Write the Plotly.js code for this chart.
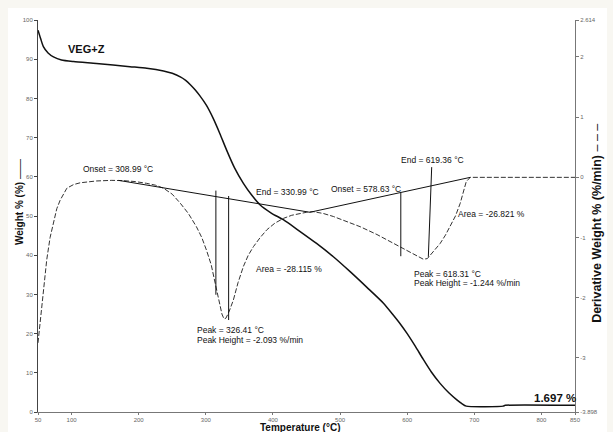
<!DOCTYPE html>
<html>
<head>
<meta charset="utf-8">
<script src="https://cdn.plot.ly/plotly-3.0.1.min.js"></script>
<style>
html,body{margin:0;padding:0;background:#f8f7f2;}
#chart{width:613px;height:432px;}
</style>
</head>
<body>
<div id="chart"></div>
<script>
// Weight % curve (left axis)
const tempW = [50, 54, 58, 65, 73, 85, 103, 137, 187, 212, 237, 250, 262, 270, 277, 284, 291, 301, 311, 321, 331, 343, 356, 368, 381, 398, 416, 440, 465, 490, 515, 540, 565, 578, 590, 600, 612, 624, 636, 649, 662, 674, 681, 688, 743, 746, 850];
const weight = [97.4, 95.2, 93.2, 91.6, 90.6, 89.8, 89.4, 88.9, 88.1, 87.7, 87.0, 86.4, 85.5, 84.6, 83.5, 82.2, 80.7, 78.2, 74.9, 71.0, 66.8, 62.2, 58.3, 55.4, 52.8, 50.7, 49.0, 46.1, 43.0, 39.6, 35.8, 31.8, 27.7, 25.0, 22.4, 20.0, 16.8, 13.4, 10.2, 7.3, 4.9, 3.1, 2.2, 1.5, 1.5, 1.7, 1.7];

// Derivative weight curve (right axis)
const tempD = [50, 53, 56, 60, 63, 68, 73, 78, 83, 93, 103, 113, 137, 160, 177, 195, 212, 225, 237, 250, 262, 274, 286, 294, 301, 308, 314, 318, 321, 324, 327, 330, 335, 341, 348, 356, 363, 371, 381, 391, 403, 416, 428, 440, 450, 460, 475, 490, 510, 530, 555, 580, 599, 612, 624, 630, 640, 649, 657, 664, 672, 679, 688, 694, 720, 760, 800, 850];
const deriv = [-2.75, -2.45, -2.10, -1.70, -1.37, -1.00, -0.76, -0.52, -0.38, -0.18, -0.12, -0.09, -0.06, -0.05, -0.055, -0.07, -0.10, -0.13, -0.18, -0.28, -0.43, -0.60, -0.82, -1.0, -1.21, -1.45, -1.76, -1.98, -2.15, -2.27, -2.35, -2.34, -2.22, -2.04, -1.75, -1.48, -1.30, -1.15, -1.0, -0.87, -0.76, -0.68, -0.63, -0.60, -0.58, -0.57, -0.60, -0.65, -0.73, -0.82, -0.95, -1.10, -1.21, -1.29, -1.36, -1.35, -1.22, -1.10, -0.96, -0.82, -0.64, -0.43, -0.07, 0.0, 0.0, 0.0, 0.0, 0.0];

// Baselines and peak markers (right axis units)
const baseT = [170, 455, 694];
const baseD = [-0.05, -0.58, 0.0];
const markerLines = [
  {t: [315, 315], d: [-0.22, -1.95]},
  {t: [334, 334], d: [-0.31, -2.37]},
  {t: [590.5, 590.5], d: [-0.26, -1.31]},
  {t: [636.5, 631.5], d: [0.17, -1.32]}
];

// Axis ticks
const xTickVals = [50, 100, 200, 300, 400, 500, 600, 700, 800, 850];
const xTickText = ['50', '100', '200', '300', '400', '500', '600', '700', '800', '850'];
const y2TickVals = [-3.898, -3, -2, -1, 0, 1, 2, 2.614];
const y2TickText = ['-3.898', '-3', '-2', '-1', '0', '1', '2', '2.614'];

// Text labels: [x (°C), y (weight %), text, anchor, bold, size]
const labels = [
  [122.3, 92.6, 'VEG+Z', 'center', true, 11],
  [169.2, 62.1, 'Onset = 308.99 °C', 'center', false, 8.5],
  [422.4, 56.25, 'End = 330.99 °C', 'center', false, 8.5],
  [538.6, 57.0, 'Onset = 578.63 °C', 'center', false, 8.5],
  [637.0, 64.2, 'End = 619.36 °C', 'center', false, 8.5],
  [423.2, 36.5, 'Area = -28.115 %', 'center', false, 8.5],
  [725.6, 50.5, 'Area = -26.821 %', 'center', false, 8.5],
  [607.2, 35.3, 'Peak = 618.31 °C', 'left', false, 8.5],
  [607.2, 32.9, 'Peak Height = -1.244 %/min', 'left', false, 8.5],
  [283.9, 20.9, 'Peak = 326.41 °C', 'left', false, 8.5],
  [283.9, 18.4, 'Peak Height = -2.093 %/min', 'left', false, 8.5],
  [819.5, 3.6, '1.697 %', 'center', true, 11.5]
];

const traces = [
  {x: tempW, y: weight, mode: 'lines', line: {color: '#111', width: 1.5, shape: 'spline', smoothing: 0.6}, yaxis: 'y', hoverinfo: 'skip'},
  {x: tempD, y: deriv, mode: 'lines', line: {color: '#333', width: 1, dash: '5px,2px'}, yaxis: 'y2', hoverinfo: 'skip'},
  {x: baseT, y: baseD, mode: 'lines', line: {color: '#111', width: 1}, yaxis: 'y2', hoverinfo: 'skip'}
];
markerLines.forEach(m => traces.push({x: m.t, y: m.d, mode: 'lines', line: {color: '#111', width: 1}, yaxis: 'y2', hoverinfo: 'skip'}));

const annotations = labels.map(l => ({
  x: l[0], y: l[1], xref: 'x', yref: 'y', text: l[4] ? '<b>' + l[2] + '</b>' : l[2],
  showarrow: false, xanchor: l[3], yanchor: 'middle',
  font: {family: 'Liberation Sans, Arial, sans-serif', size: l[5], color: '#111'}
}));
annotations.push(
  {x: 0.488, y: -0.039, xref: 'paper', yref: 'paper', text: '<b>Temperature (°C)</b>', showarrow: false, xanchor: 'center', yanchor: 'middle', font: {family: 'Liberation Sans, Arial, sans-serif', size: 10, color: '#111'}},
  {x: -0.0354, y: 0.5357, xref: 'paper', yref: 'paper', text: '<b>Weight % (%)</b> ——', textangle: -90, showarrow: false, xanchor: 'center', yanchor: 'middle', font: {family: 'Liberation Sans, Arial, sans-serif', size: 10, color: '#111'}},
  {x: 1.041, y: 0.48, xref: 'paper', yref: 'paper', text: '<b>Derivative Weight % (%/min)</b> – – –', textangle: -90, showarrow: false, xanchor: 'center', yanchor: 'middle', font: {family: 'Liberation Sans, Arial, sans-serif', size: 12.5, color: '#111'}}
);

const tickFont = {family: 'Liberation Sans, Arial, sans-serif', size: 6, color: '#666'};
const layout = {
  width: 613, height: 432,
  margin: {l: 38, r: 38, t: 20, b: 20},
  paper_bgcolor: '#f8f7f2', plot_bgcolor: 'rgba(0,0,0,0)',
  showlegend: false,
  xaxis: {range: [50, 850], tickvals: xTickVals, ticktext: xTickText, showgrid: false, zeroline: false,
    showline: true, linecolor: '#777', linewidth: 1, ticks: 'outside', ticklen: 2, tickcolor: '#777', tickfont: tickFont},
  yaxis: {range: [0, 100], dtick: 10, showgrid: false, zeroline: false,
    showline: true, linecolor: '#444', linewidth: 1, ticks: 'outside', ticklen: 3, tickcolor: '#444', tickfont: tickFont},
  yaxis2: {range: [-3.898, 2.614], overlaying: 'y', side: 'right', tickvals: y2TickVals, ticktext: y2TickText,
    showgrid: false, zeroline: false, showline: true, linecolor: '#777', linewidth: 1, ticks: 'outside', ticklen: 3, tickcolor: '#777', tickfont: tickFont},
  shapes: [
    {type: 'rect', xref: 'paper', yref: 'paper', x0: -0.0559, x1: 1.0596, y0: -0.052, y1: 1.0306, fillcolor: '#ffffff', line: {width: 0}, layer: 'below'}
  ],
  annotations: annotations
};

Plotly.newPlot('chart', traces, layout, {displayModeBar: false, staticPlot: true});
</script>
</body>
</html>
